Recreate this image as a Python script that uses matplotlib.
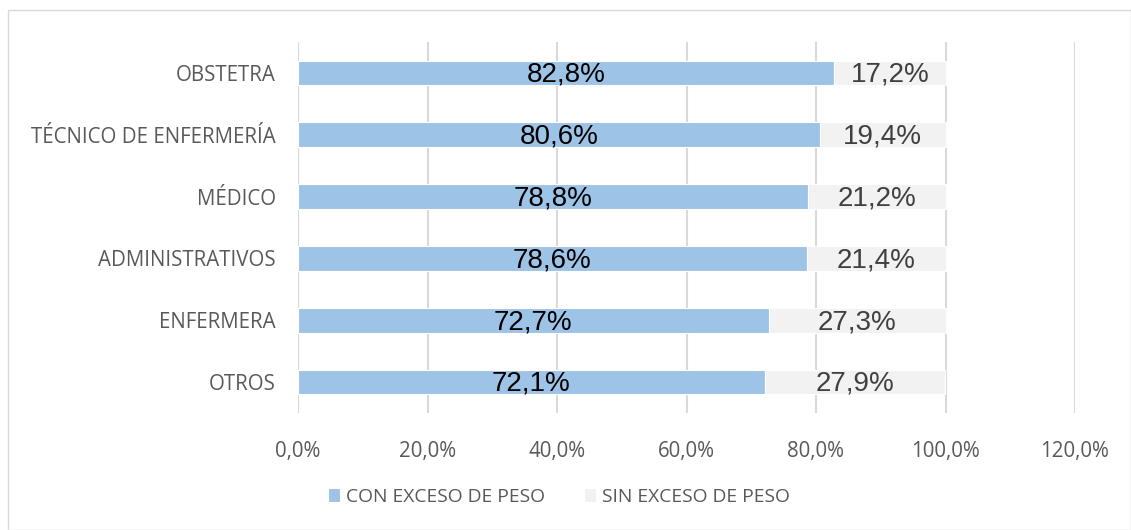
import numpy as np
import matplotlib
matplotlib.use("Agg")
import matplotlib.pyplot as plt
from matplotlib.patches import Rectangle

categories = ["OTROS", "ENFERMERA", "ADMINISTRATIVOS", "MÉDICO",
              "TÉCNICO DE ENFERMERÍA", "OBSTETRA"]
con_exceso = [72.1, 72.7, 78.6, 78.8, 80.6, 82.8]
sin_exceso = [27.9, 27.3, 21.4, 21.2, 19.4, 17.2]
series_names = ["CON EXCESO DE PESO", "SIN EXCESO DE PESO"]
xticks = [0, 20, 40, 60, 80, 100, 120]

BLUE = "#9DC3E6"
GREY = "#F2F2F2"
TICK_FONT = "Open Sans"
LABEL_FONT = "Liberation Sans"
TICK_SIZE = 14.8


def pct(v, dec=1):
    return f"{v:.{dec}f}%".replace(".", ",")


fig = plt.figure(figsize=(11.31, 5.30), dpi=100)
ax = fig.add_axes([298 / 1131, 1 - 413 / 530, (1075 - 298) / 1131, (413 - 42) / 530])

y = np.arange(len(categories))
h = 0.4
ax.barh(y, con_exceso, height=h, color=BLUE, edgecolor="white", linewidth=0.8,
        label=series_names[0], zorder=2)
ax.barh(y, sin_exceso, left=con_exceso, height=h, color=GREY, edgecolor="white",
        linewidth=0.8, label=series_names[1], zorder=2)

for i in range(len(categories)):
    ax.text(con_exceso[i] / 2, y[i] - 0.03, pct(con_exceso[i]), ha="center",
            va="center", fontsize=20, color="black", family=LABEL_FONT, zorder=3)
    ax.text(con_exceso[i] + sin_exceso[i] / 2, y[i] - 0.03, pct(sin_exceso[i]),
            ha="center", va="center", fontsize=20, color="#404040",
            family=LABEL_FONT, zorder=3)

ax.set_xlim(0, 120)
ax.set_ylim(-0.5, len(categories) - 0.5)
ax.set_xticks(xticks)
ax.set_xticklabels([pct(v) for v in xticks], family=TICK_FONT, fontsize=TICK_SIZE,
                   color="#595959")
ax.set_yticks(y)
ax.set_yticklabels(categories, family=TICK_FONT, fontsize=TICK_SIZE,
                   color="#595959")
ax.tick_params(axis="both", length=0)
ax.tick_params(axis="x", pad=20)
ax.tick_params(axis="y", pad=16)
ax.grid(axis="x", color="#D9D9D9", linewidth=1.5, zorder=0)
for s in ax.spines.values():
    s.set_visible(False)

leg = fig.legend(loc="center", bbox_to_anchor=(559 / 1131, 1 - 497 / 530), ncol=2,
                 frameon=False, handlelength=0.65, handleheight=0.75,
                 columnspacing=2.0, handletextpad=0.3,
                 prop={"family": TICK_FONT, "size": 13.9})
for t in leg.get_texts():
    t.set_color("#595959")

fig.patches.append(Rectangle((8 / 1131, 0), 1 - 8 / 1131, 1 - 10 / 530,
                             transform=fig.transFigure, fill=False,
                             edgecolor="#D9D9D9", linewidth=1))

fig.savefig("out.png", dpi=100)
